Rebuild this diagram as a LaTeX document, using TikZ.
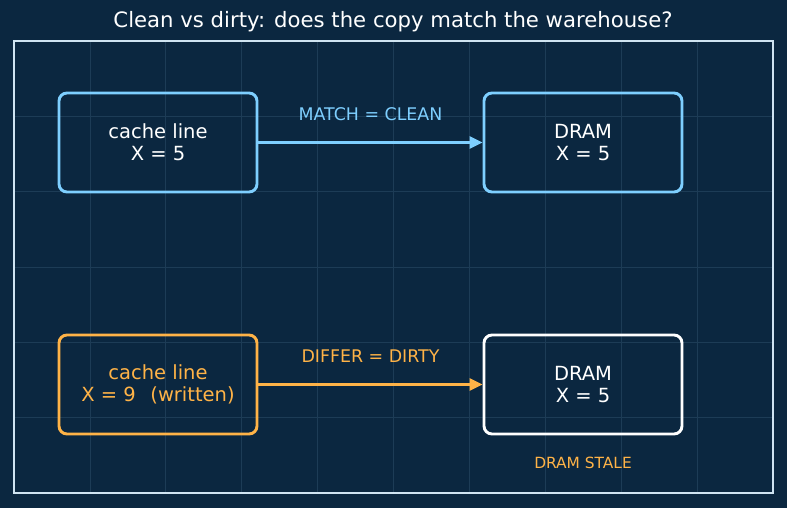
\documentclass[tikz,border=0pt]{standalone}
\usepackage{fontspec}
\setmainfont{DejaVu Sans}
\usetikzlibrary{arrows.meta}
\definecolor{bg}{HTML}{0B2740}
\definecolor{gridc}{HTML}{1D3C56}
\definecolor{framec}{HTML}{CFE4F2}
\definecolor{cblue}{HTML}{7ECFFF}
\definecolor{corange}{HTML}{FFB347}
\tikzset{
  box/.style={draw, rounded corners=8pt, line width=2.9pt, minimum width=198pt, minimum height=99pt, align=center, font=\fontsize{19.5}{22}\selectfont},
  conn/.style={line width=2.7pt, -{Triangle[length=13pt,width=12pt]}},
  lbl/.style={font=\fontsize{17.4}{20}\selectfont}
}
\begin{document}
\begin{tikzpicture}[x=1pt,y=-1pt]
\useasboundingbox (0,0) rectangle (787,508);
\fill[bg] (0,0) rectangle (787,508);
% grid
\foreach \i in {1,...,9} {
  \draw[gridc, line width=0.7pt] ({14+75.9*\i},41) -- ({14+75.9*\i},493);
}
\foreach \j in {1,...,5} {
  \draw[gridc, line width=0.7pt] (14,{41+75.33*\j}) -- (773,{41+75.33*\j});
}
\draw[framec, line width=1.3pt] (14,41) rectangle (773,493);
\node[white, font=\fontsize{21.2}{24}\selectfont] (title) at (393,22) {Clean vs dirty: does the copy match the warehouse?};
% boxes
\node[box, draw=cblue, text=white] (c1) at (158,142.5) {cache line\\X = 5};
\node[box, draw=cblue, text=white] (d1) at (583,142.5) {DRAM\\X = 5};
\node[box, draw=corange, text=corange] (c2) at (158,384.5) {cache line\\X = 9\hspace{0.75em}(written)};
\node[box, draw=white, text=white] (d2) at (583,384.5) {DRAM\\X = 5};
% connectors
\draw[conn, cblue] (c1.east) -- (d1.west) node[midway, yshift=28pt, lbl, text=cblue, inner sep=0pt] (l1) {MATCH = CLEAN};
\draw[conn, corange] (c2.east) -- (d2.west) node[midway, yshift=28pt, lbl, text=corange, inner sep=0pt] (l2) {DIFFER = DIRTY};
\node[corange, font=\fontsize{15.4}{18}\selectfont] (stale) at (583,463) {DRAM STALE};
\end{tikzpicture}
\end{document}
